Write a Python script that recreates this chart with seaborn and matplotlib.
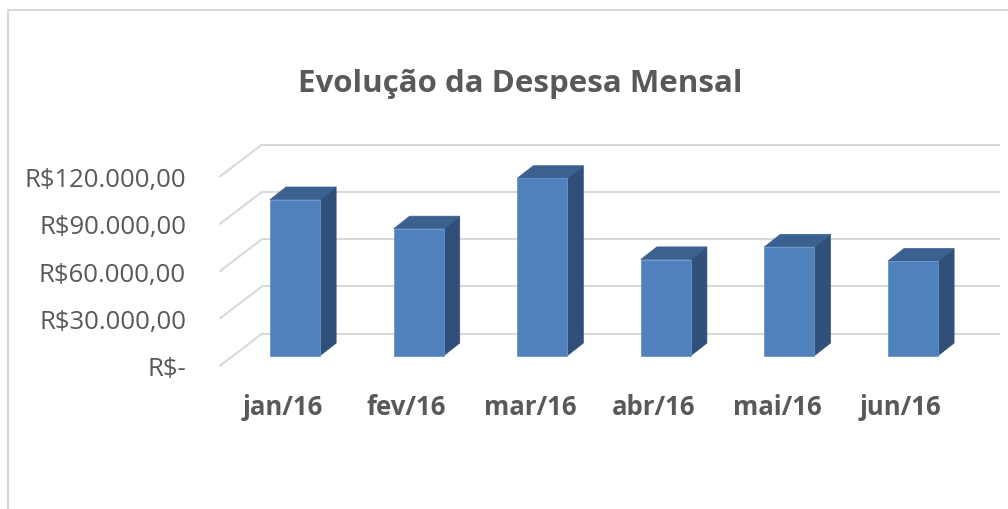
import numpy as np
import pandas as pd
import seaborn as sns
import matplotlib.pyplot as plt
from matplotlib.patches import Polygon, Rectangle

# data
meses = ["jan/16", "fev/16", "mar/16", "abr/16", "mai/16", "jun/16"]
despesa = [99000, 80500, 112500, 61000, 69000, 60000]
ticks = [0, 30000, 60000, 90000, 120000]
tick_labels = ["R$-", "R$30.000,00", "R$60.000,00", "R$90.000,00", "R$120.000,00"]

df = pd.DataFrame({"mes": meses, "despesa": despesa})

sns.set_style("white")
plt.rcParams["font.family"] = ["Open Sans", "DejaVu Sans"]

fig = plt.figure(figsize=(10.08, 5.10), dpi=100)
ax = fig.add_axes([200 / 1008, 0.2388, 800 / 1008, 0.5255])

front = "#4F81BD"
side = "#30507A"
top = "#3B6190"

sns.barplot(data=df, x="mes", y="despesa", color=front, width=0.405,
            saturation=1, ax=ax, zorder=3)

# fake depth (data units)
ddx, ddy = 0.13, 8000        # bar depth
wall = 13950                 # back wall offset
fr = -6340                   # front plane offset
x_wall0, x_front = -0.267, -0.607

# back wall gridlines + diagonals to the front plane
for v in ticks:
    ax.plot([x_wall0, 5.70], [v + wall, v + wall], color="#D9D9D9", lw=1.5, zorder=1)
    ax.plot([x_front, x_wall0], [v + fr, v + wall], color="#D9D9D9", lw=1.5, zorder=1)

for p in ax.patches[:]:
    x0 = p.get_x()
    w = p.get_width()
    h = p.get_height()
    p.set_edgecolor("#6A95CC")
    p.set_linewidth(0.6)
    ax.add_patch(Polygon([[x0 + w, 0], [x0 + w + ddx, ddy], [x0 + w + ddx, h + ddy], [x0 + w, h]],
                         closed=True, facecolor=side, edgecolor=side, lw=0.5, zorder=2.9))
    ax.add_patch(Polygon([[x0, h], [x0 + ddx, h + ddy], [x0 + w + ddx, h + ddy], [x0 + w, h]],
                         closed=True, facecolor=top, edgecolor=top, lw=0.5, zorder=2.9))

ax.set_xlim(-0.769, 5.704)
ax.set_ylim(-20000, 150000)
ax.set_yticks([v + fr for v in ticks])
ax.set_yticklabels(tick_labels, fontsize=18.5, color="#595959")
ax.set_xticks(np.arange(len(meses)) - 0.1)
ax.set_xticklabels(meses, fontsize=18.5, fontweight="bold", color="#595959")
ax.tick_params(axis="y", length=0, pad=10)
ax.tick_params(axis="x", length=0, pad=4)
ax.set_xlabel("")
ax.set_ylabel("")
sns.despine(ax=ax, left=True, bottom=True)

fig.text(0.516, 1 - 84 / 510, "Evolução da Despesa Mensal", ha="center", va="center",
         fontsize=22.5, fontweight="bold", color="#595959")

# chart border
fig.add_artist(Rectangle((7.5 / 1008, -0.05), 1.1, 1 - 11 / 510 + 0.05, transform=fig.transFigure,
                         fill=False, edgecolor="#D9D9D9", lw=1.5))

fig.savefig("out.png", dpi=100)
